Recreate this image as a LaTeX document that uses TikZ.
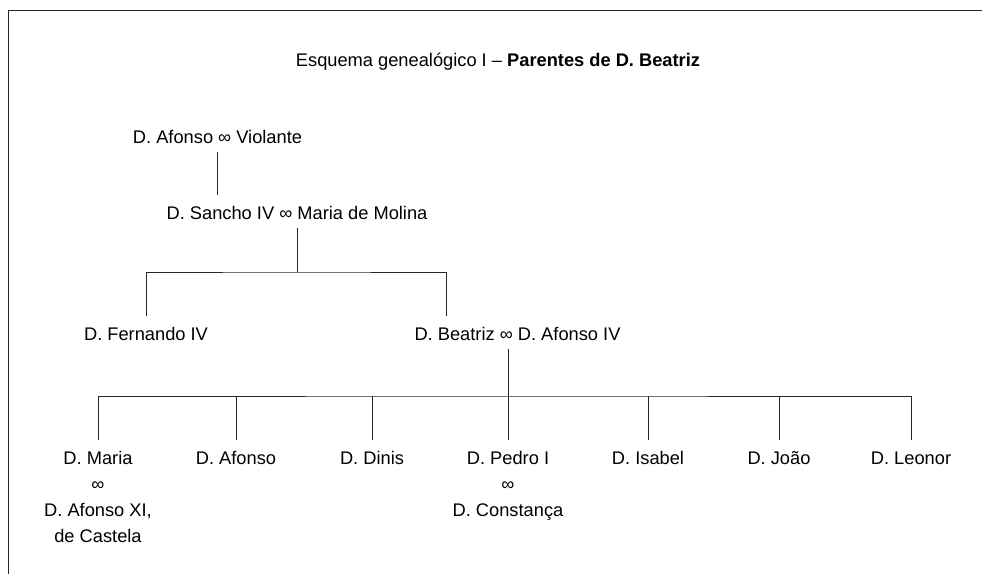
\documentclass[tikz,border=0pt]{standalone}
\usepackage{fontspec}
\setmainfont{Liberation Sans}
\usetikzlibrary{positioning,calc}

\begin{document}
\begin{tikzpicture}[
    x=0.75pt, y=-0.75pt,
    node distance=6.6pt,
    person/.style={inner sep=0pt, text height=10pt, text depth=2.5pt, anchor=base, font=\fontsize{13.7pt}{15pt}\selectfont},
    link/.style={draw, line width=0.75pt, color=black!85},
    leave/.style={shorten <=3.9pt},
    reach/.style={shorten >=8pt},
    drops/.style={shorten <=8pt, shorten >=8pt}
]
\useasboundingbox (0,0) rectangle (982,574);

% Frame
\draw[link] (8.5,574) -- (8.5,11) -- (982,11);

% Title
\node[person] (title) at (498,66.5) {Esquema genealógico I – \textbf{Parentes de D. Beatriz}};

% Grandparents and parents
\node[person] (afonso) at (217.5,143.5) {D. Afonso ∞ Violante};
\node[person] (sancho) at (297,219.5) {D. Sancho IV ∞ Maria de Molina};
\node[person] (fernando) at (146,340.5) {D. Fernando IV};
\node[person] (beatriz) at (517.5,340.5) {D. Beatriz ∞ D. Afonso IV};

% Children of D. Beatriz
\node[person] (maria) at (98,464) {D. Maria};
\node[person, below=of maria] (mariaInf) {∞};
\node[person, below=of mariaInf] (afonsoXI) {D. Afonso XI,};
\node[person, below=of afonsoXI] (castela) {de Castela};
\node[person] (afonsoF) at (236,464) {D. Afonso};
\node[person] (dinis) at (372,464) {D. Dinis};
\node[person] (pedro) at (508,464) {D. Pedro I};
\node[person, below=of pedro] (pedroInf) {∞};
\node[person, below=of pedroInf] (constanca) {D. Constança};
\node[person] (isabel) at (648,464) {D. Isabel};
\node[person] (joao) at (779,464) {D. João};
\node[person] (leonor) at (911,464) {D. Leonor};

% Afonso to Sancho
\draw[link, leave, reach] (afonso.south) -- (afonso.south |- sancho.north);

% Sancho to his children
\coordinate (sancho bar) at (297,272);
\coordinate (beatriz top) at (446,272);
\draw[link, leave] (sancho.south) -- (sancho bar);
\draw[link, drops] (fernando.north) |- (sancho bar) -| (beatriz top |- beatriz.north);

% Beatriz to her children
\coordinate (kids bar) at (508,396);
\draw[link, leave, reach] (beatriz.south -| pedro.north) -- (pedro.north);
\draw[link, drops] (maria.north) |- (kids bar) -| (leonor.north);
\draw[link, reach] (afonsoF.north |- kids bar) -- (afonsoF.north);
\draw[link, reach] (dinis.north |- kids bar) -- (dinis.north);
\draw[link, reach] (isabel.north |- kids bar) -- (isabel.north);
\draw[link, reach] (joao.north |- kids bar) -- (joao.north);

\end{tikzpicture}
\end{document}
